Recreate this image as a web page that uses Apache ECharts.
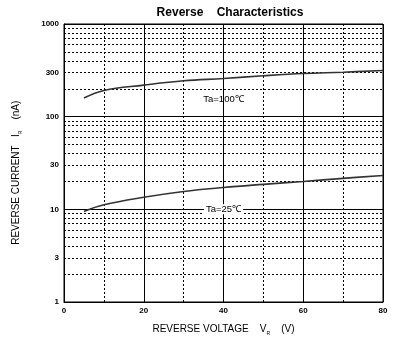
<!DOCTYPE html>
<html><head><meta charset="utf-8">
<script src="https://cdn.jsdelivr.net/npm/echarts@6/dist/echarts.min.js"></script>
<style>html,body{margin:0;padding:0;background:#fff}#c{width:410px;height:345px}</style>
</head><body><div id="c"></div>
<script>
const xVoltage = [5, 10, 20, 30, 40, 50, 60, 70, 80];
const ir100 = [159, 192, 219, 244, 258, 276, 292, 302, 315];
const ir25 = [9.5, 11.2, 13.5, 15.6, 17.2, 18.6, 20, 21.6, 23.2];
const yMinorGrid = [2,3,4,5,6,7,8,9,20,30,40,50,60,70,80,90,200,300,400,500,600,700,800,900];
const yExtraLabels = [3, 30, 300];
const xTicks = [0, 20, 40, 60, 80];
const labels = [{name:'Ta=100℃', x:40, y:152}, {name:'Ta=25℃', x:40, y:10}];

const FONT = '"Liberation Sans", Arial, sans-serif';
const chart = echarts.init(document.getElementById('c'), null, {renderer:'canvas'});
const minorLines = yMinorGrid.map(v => ({
  yAxis: v,
  label: yExtraLabels.includes(v) ? {show:true, position:'start', formatter:String(v), distance:5, color:'#000', fontSize:8, fontWeight:'bold', fontFamily:FONT} : {show:false}
}));
chart.setOption({
  animation:false,
  title:{text:'Reverse    Characteristics', left:225, top:2, textAlign:'center',
    textStyle:{fontFamily:FONT, fontSize:12, fontWeight:'bold', color:'#000'}},
  grid:{left:64, right:27, top:24, bottom:43, show:true, borderColor:'#000', borderWidth:1, backgroundColor:'#fff'},
  xAxis:{type:'value', min:0, max:80, interval:20,
    axisLine:{show:true, lineStyle:{color:'#000', width:1}},
    axisTick:{show:false},
    axisLabel:{color:'#000', fontSize:8, fontWeight:'bold', fontFamily:FONT, margin:5,
      formatter: v => xTicks.includes(v) ? String(v) : ''},
    splitLine:{show:true, lineStyle:{color:'#000', width:1}},
    minorTick:{show:false, splitNumber:2},
    minorSplitLine:{show:true, lineStyle:{color:'#000', width:1, type:[2,2]}},
    name:'REVERSE VOLTAGE    V{s|R}    (V)', nameLocation:'middle', nameGap:21,
    nameTextStyle:{color:'#000', fontSize:10, fontFamily:FONT,
      rich:{s:{fontSize:5, fontFamily:FONT, color:'#000', padding:[8,0,0,0]}}}
  },
  yAxis:{type:'log', logBase:10, min:1, max:1000,
    axisLine:{show:true, lineStyle:{color:'#000', width:1}},
    axisTick:{show:false},
    axisLabel:{color:'#000', fontSize:8, fontWeight:'bold', fontFamily:FONT, margin:5,
      formatter: v => String(Math.round(v))},
    splitLine:{show:true, lineStyle:{color:'#000', width:1}},
    name:'REVERSE CURRENT   I{s|R}    (nA)       ', nameLocation:'middle', nameGap:41, nameRotate:90,
    nameTextStyle:{color:'#000', fontSize:10, fontFamily:FONT,
      rich:{s:{fontSize:5, fontFamily:FONT, color:'#000', padding:[8,0,0,0]}}}
  },
  series:[
    {type:'line', data:xVoltage.map((x,i)=>[x, ir100[i]]), smooth:0.4, showSymbol:false,
     lineStyle:{color:'#333', width:1.6}, z:5,
     markLine:{silent:true, symbol:['none','none'], lineStyle:{color:'#000', width:1, type:[2,2]}, data:minorLines},
     markPoint:{symbolSize:0, data:[{coord:[labels[0].x, labels[0].y], label:{show:true, formatter:labels[0].name, color:'#000', fontSize:9.5, fontFamily:FONT}}]}
    },
    {type:'line', data:xVoltage.map((x,i)=>[x, ir25[i]]), smooth:0.4, showSymbol:false,
     lineStyle:{color:'#333', width:1.6}, z:5,
     markPoint:{symbolSize:0, data:[{coord:[labels[1].x, labels[1].y], label:{show:true, formatter:labels[1].name, color:'#000', fontSize:9.5, fontFamily:FONT, backgroundColor:'#fff', padding:[0,2]}}]}
    }
  ]
});
</script></body></html>
